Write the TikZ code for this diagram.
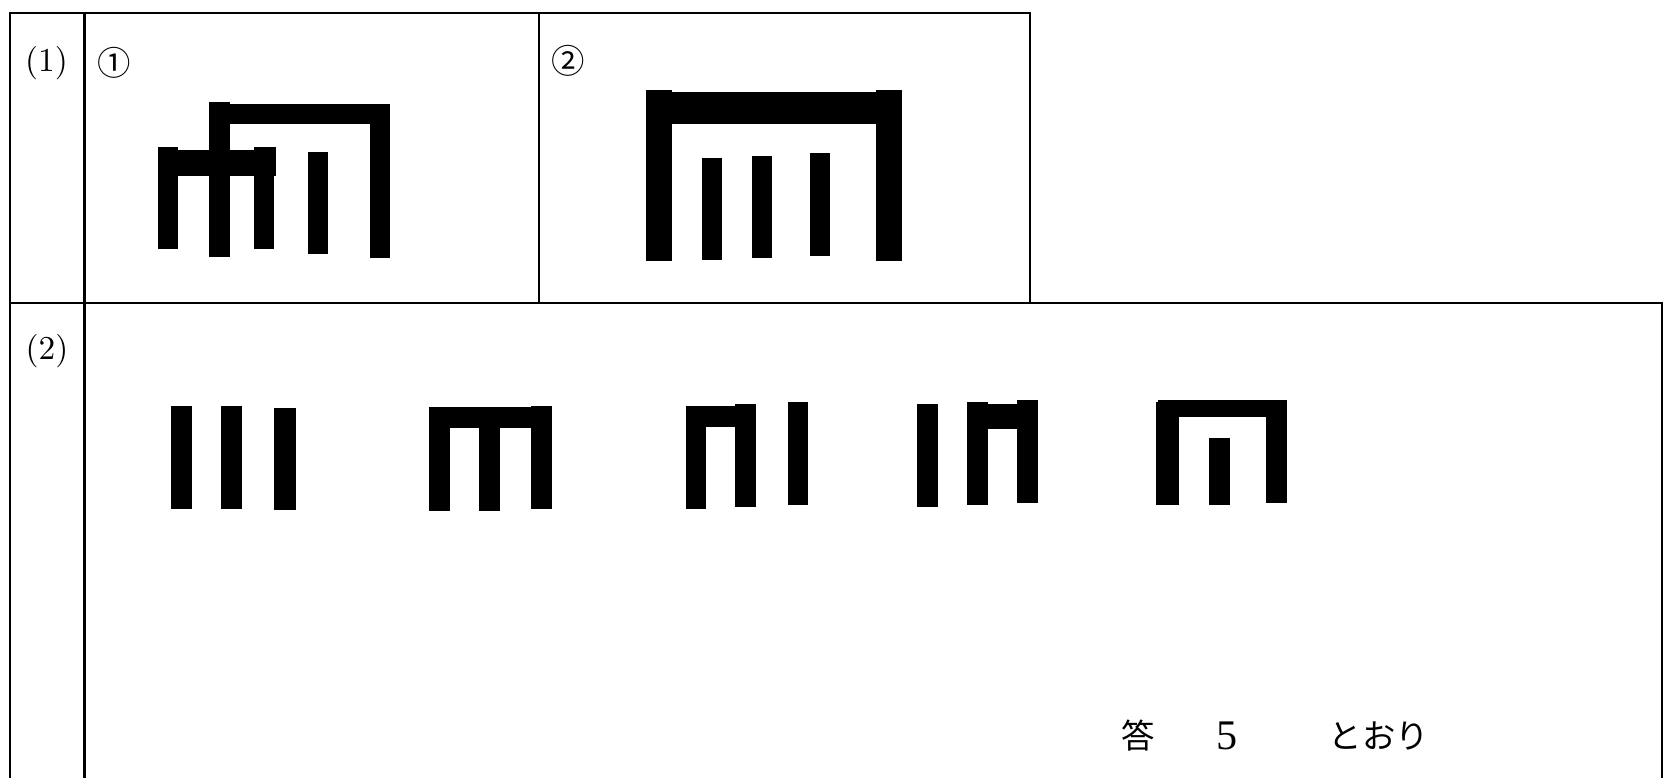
\documentclass[tikz,border=0pt]{standalone}
\usepackage{fontspec}
\newfontfamily\cjk{Noto Sans CJK JP}
\newfontfamily\serifb{Liberation Serif}
\usetikzlibrary{positioning}

\begin{document}
\begin{tikzpicture}[x=0.1mm, y=-0.1mm,
  linea/.style={line width=0.25mm, draw=black},
  barra/.style={fill=black},
  num/.style={font=\fontsize{9.5pt}{11pt}\selectfont, inner sep=0pt},
  circ/.style={font=\cjk\fontsize{9.5pt}{11pt}\selectfont, inner sep=0pt},
  resp/.style={font=\cjk\fontsize{9.5pt}{11pt}\selectfont, inner sep=0pt},
]
  \useasboundingbox (0,0) rectangle (1672,778);

  % tabla
  \draw[linea] (10,778) -- (10,13) -- (1030,13) -- (1030,303);
  \draw[linea] (10,303) -- (1662,303) -- (1662,778);
  \draw[linea] (84.5,13) -- (84.5,778);
  \draw[linea] (539,13) -- (539,303);

  \node[num]  (p1) at (46.5,63)  {(1)};
  \node[num]  (p2) at (47,351)   {(2)};
  \node[circ] (c1) at (114,63)   {①};
  \node[circ] (c2) at (568.5,61) {②};

  % figura 1
  \fill[barra] (157.5,147) rectangle (178.2,249.3);
  \fill[barra] (178.2,150) rectangle (253.6,176);
  \fill[barra] (253.6,147) rectangle (275.7,176);
  \fill[barra] (253.6,147) rectangle (274.3,249.3);
  \fill[barra] (209.3,102.3) rectangle (230,256.7);
  \fill[barra] (230,104.3) rectangle (390.4,124.3);
  \fill[barra] (369.6,104.3) rectangle (390.4,258.3);
  \fill[barra] (307.5,152.3) rectangle (327.9,254.3);

  % figura 2
  \fill[barra] (645.7,90) rectangle (672.3,260.7);
  \fill[barra] (672.3,92.3) rectangle (875.7,124.3);
  \fill[barra] (875.7,90) rectangle (902,260.7);
  \fill[barra] (702,158) rectangle (722.3,260.3);
  \fill[barra] (751.7,156) rectangle (772.3,258.3);
  \fill[barra] (809.7,153.3) rectangle (830.3,255.7);

  % (2) tres barras
  \fill[barra] (171.4,406) rectangle (192.4,509);
  \fill[barra] (221.4,406) rectangle (242.4,509);
  \fill[barra] (273.7,408) rectangle (296,510.3);

  % (2) m
  \fill[barra] (429,407.3) rectangle (450,510.7);
  \fill[barra] (450,407.3) rectangle (531,428.3);
  \fill[barra] (479,407.3) rectangle (500,510.7);
  \fill[barra] (531,406) rectangle (551.8,509);

  % (2) n + barra
  \fill[barra] (685.7,406.3) rectangle (706.3,509);
  \fill[barra] (706.3,406.3) rectangle (735.3,426.7);
  \fill[barra] (735.3,404.3) rectangle (756.3,507);
  \fill[barra] (787.5,402.3) rectangle (808,505);

  % (2) barra + n
  \fill[barra] (917.4,404.3) rectangle (938,507);
  \fill[barra] (967.4,402.3) rectangle (988,505);
  \fill[barra] (988,404.3) rectangle (1017.4,428.7);
  \fill[barra] (1017.4,400.3) rectangle (1038,503);

  % (2) n grande
  \fill[barra] (1155.8,401.7) rectangle (1178.6,505);
  \fill[barra] (1158,399.7) rectangle (1286.6,416.7);
  \fill[barra] (1265.6,399.7) rectangle (1286.6,503);
  \fill[barra] (1209.4,438) rectangle (1230.4,505);

  % respuesta
  \node[resp] (kotae) at (1138.3,735.5) {答};
  \node[resp, font=\serifb\fontsize{12pt}{14pt}\selectfont] (cinco) at (1227.5,736) {5};
  \node[resp] (toori) at (1379,736) {とおり};
\end{tikzpicture}
\end{document}
